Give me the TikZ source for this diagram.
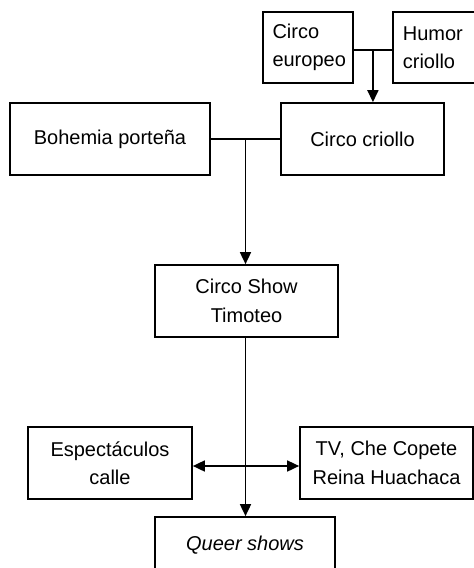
\documentclass[tikz,border=0pt]{standalone}
\usepackage{fontspec}
\setmainfont{Liberation Sans}
\usetikzlibrary{arrows.meta}
\begin{document}
\begin{tikzpicture}[x=1pt,y=1pt,
  box/.style={draw,line width=1.7pt,inner sep=0pt,align=center,
    font=\fontsize{20}{28.5}\selectfont},
  line/.style={line width=1.7pt},
  arr/.style={line width=1.7pt,-{Triangle[length=12pt,width=11pt]}},
  darr/.style={line width=1.7pt,{Triangle[length=12pt,width=11pt]}-{Triangle[length=12pt,width=11pt]}}]
\useasboundingbox (0,0) rectangle (474,-568);
\clip (0,0) rectangle (474,-568);
% top row
\node[box,align=left,text width=71pt,inner xsep=9.5pt,minimum height=71pt] (eu) at (308,-47.5) {Circo\\europeo};
\node[box,align=left,text width=70pt,inner xsep=10pt,minimum height=71pt,anchor=west] (hu) at (392,-47.5) {Humor\\criollo};
% second row
\node[box,minimum width=200pt,minimum height=72pt] (bo) at (110,-139) {Bohemia porteña};
\node[box,minimum width=163pt,minimum height=72pt] (cc) at (362.5,-139) {Circo criollo};
% middle
\node[box,minimum width=183pt,minimum height=72pt] (cs) at (246.5,-301) {Circo Show\\Timoteo};
% fourth row
\node[box,minimum width=164pt,minimum height=72pt] (es) at (110,-463) {Espectáculos\\calle};
\node[box,minimum width=173pt,minimum height=72pt] (tv) at (386.5,-463) {TV, Che Copete\\Reina Huachaca};
% bottom
\node[box,minimum width=180pt,minimum height=56pt] (qs) at (245,-545) {\itshape Queer shows};
% connectors
\draw[line] ([yshift=-2.5pt]eu.east) -- coordinate[pos=0.5] (j1) ([yshift=-2.5pt]hu.west);
\draw[arr] (j1) -- (j1 |- cc.north);
\draw[line] (bo.east) -- coordinate[pos=0.5] (j2) (cc.west);
\draw[arr] (j2) -- (j2 |- cs.north);
\draw[arr] (cs.south -| j2) -- (j2 |- qs.north);
\draw[darr] ([yshift=-3pt]es.east) -- ([yshift=-3pt]tv.west);
\end{tikzpicture}
\end{document}
